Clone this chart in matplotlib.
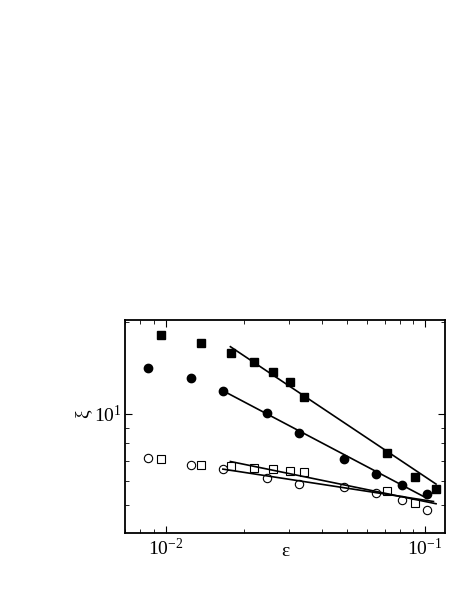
import numpy as np
import matplotlib
matplotlib.use('Agg')
import matplotlib.pyplot as plt

plt.rcParams['font.family'] = ['Liberation Serif', 'DejaVu Serif']
plt.rcParams['mathtext.fontset'] = 'stix'

# filled squares
eps_sq = [0.0096, 0.01373, 0.01786, 0.02198, 0.02607, 0.03024, 0.03432, 0.0713, 0.0919, 0.1101]
xi_sq_full = [18.1, 17.09, 15.85, 14.77, 13.73, 12.73, 11.32, 7.45, 6.21, 5.65]
xi_sq_open = [7.12, 6.79, 6.74, 6.65, 6.59, 6.49, 6.44, 5.58, 5.08]
eps_sq_open = eps_sq[:9]

# circles
eps_ci = [0.00855, 0.01256, 0.01663, 0.0247, 0.03266, 0.04897, 0.0649, 0.0815, 0.1017]
xi_ci_full = [14.15, 13.12, 11.9, 10.03, 8.63, 7.09, 6.31, 5.81, 5.44]
xi_ci_open = [7.17, 6.79, 6.60, 6.14, 5.88, 5.74, 5.47, 5.21, 4.84]

# power-law fits xi = A * eps**b over [x0, x1]
fit_sq_full = dict(A=1.675, b=-0.569, x0=0.01778, x1=0.1104)
fit_ci_full = dict(A=1.890, b=-0.449, x0=0.01663, x1=0.1017)
fit_sq_open = dict(A=3.439, b=-0.175, x0=0.01778, x1=0.1104)
fit_ci_open = dict(A=3.843, b=-0.131, x0=0.01663, x1=0.1079)

fig = plt.figure(figsize=(4.61, 5.97), dpi=100)
ax = fig.add_axes([0.271, 0.107, 0.694, 0.357])

ms = 5.4
ax.plot(eps_sq, xi_sq_full, 's', color='black', ms=ms)
ax.plot(eps_ci, xi_ci_full, 'o', color='black', ms=ms + 0.6)
ax.plot(eps_sq_open, xi_sq_open, 's', mfc='white', mec='black', mew=0.8, ms=ms)
ax.plot(eps_ci, xi_ci_open, 'o', mfc='white', mec='black', mew=0.8, ms=ms + 0.6)

for f in [fit_sq_full, fit_ci_full, fit_sq_open, fit_ci_open]:
    xs = np.array([f['x0'], f['x1']])
    ax.plot(xs, f['A'] * xs ** f['b'], '-', color='black', lw=1.2)

ax.set_xscale('log')
ax.set_yscale('log')
ax.set_xlim(0.00697, 0.1194)
ax.set_ylim(4.05, 20.3)

ax.tick_params(which='both', direction='in', top=True, right=True, labelsize=14)
ax.tick_params(which='major', length=5)
ax.tick_params(which='minor', length=3)
ax.tick_params(axis='y', pad=2.5)
ax.yaxis.set_minor_formatter(matplotlib.ticker.NullFormatter())
for s in ax.spines.values():
    s.set_linewidth(1.3)

ax.set_xlabel('ε', fontsize=14)
ax.xaxis.set_label_coords(0.5, -0.045)
ax.set_ylabel('ξ', fontsize=14)
ax.yaxis.set_label_coords(-0.105, 0.56)

fig.savefig('out.png', dpi=100)
